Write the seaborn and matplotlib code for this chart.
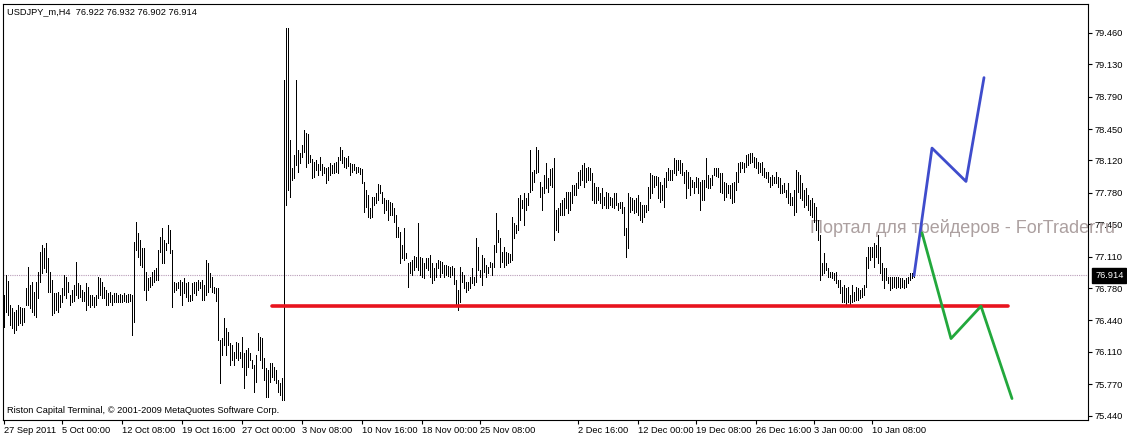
import numpy as np
import pandas as pd
import matplotlib
matplotlib.use('Agg')
import matplotlib.pyplot as plt
import matplotlib.transforms as mtransforms
import seaborn as sns

sns.set_style('white')
plt.rcParams['font.family'] = ['Liberation Sans', 'DejaVu Sans']

# USDJPY H4 bars (high / low)
bar_high = [
    76.71, 76.92, 76.85, 76.60, 76.57, 76.53, 76.55, 76.60, 76.58, 76.57,
    76.57, 76.78, 77.00, 76.81, 76.84, 76.74, 76.84, 76.95, 77.16, 77.23,
    77.20, 77.25, 77.10, 76.95, 76.86, 76.73, 76.73, 76.74, 76.71, 76.78,
    76.92, 76.90, 76.84, 76.71, 76.76, 76.81, 77.05, 76.83, 76.81, 76.76,
    76.74, 76.83, 76.79, 76.71, 76.71, 76.69, 76.71, 76.90, 76.89, 76.84,
    76.79, 76.76, 76.73, 76.74, 76.71, 76.73, 76.73, 76.71, 76.72, 76.71,
    76.73, 76.71, 76.72, 76.72, 76.71,
    77.26, 77.47, 77.36, 77.28, 77.20, 77.20, 76.95, 76.89, 76.90, 76.95,
    76.97, 76.99, 77.18, 77.32, 77.41, 77.28, 77.25, 77.44, 77.39, 77.18,
    76.84, 76.83, 76.84, 76.86, 76.84, 76.89, 76.83, 76.84, 76.71, 76.83,
    76.84, 76.84, 76.86, 76.84, 76.86, 76.81, 77.08, 77.04, 76.94, 76.90,
    76.79, 76.78, 76.78, 76.24, 76.26, 76.47, 76.36, 76.32, 76.20, 76.18,
    76.11, 76.21, 76.20, 76.11, 76.27, 76.10, 76.13, 76.15, 76.10, 76.03,
    75.97, 76.08, 76.31, 76.27, 76.26, 76.05, 75.94, 75.92, 75.99, 75.99,
    75.95, 75.92, 75.82, 75.78, 75.84,
    78.97,
    79.51, 79.51, 78.34, 78.04, 78.18, 78.97, 78.23, 78.20, 78.28, 78.44,
    78.41, 78.40, 78.18, 78.14, 78.10, 78.13, 78.08, 78.16, 78.08, 78.05,
    78.04, 78.05, 78.09, 78.07, 78.09, 78.10, 78.16, 78.26, 78.23, 78.16,
    78.15, 78.17, 78.09, 78.08, 78.08, 78.05, 78.05, 78.04, 78.03, 77.89,
    77.81, 77.76, 77.62, 77.74, 77.74, 77.78, 77.87, 77.86, 77.79, 77.73,
    77.71, 77.71, 77.68,
    77.67, 77.62, 77.55, 77.42, 77.37, 77.23, 77.41, 77.15, 77.04, 77.05,
    77.08, 77.12, 77.11, 77.46, 77.11, 77.10, 77.04, 77.10, 77.10, 77.13,
    77.04, 76.99, 77.04, 77.08, 77.06, 77.05, 77.02, 77.02, 77.01, 77.00,
    77.01, 76.99, 76.86, 76.76, 77.00, 76.95, 76.92, 76.84, 76.84, 76.90,
    76.99, 76.90, 77.31, 77.21, 76.97, 77.13, 77.10, 77.02, 77.00, 77.05,
    77.04, 77.23, 77.57, 77.39, 77.31, 77.16, 77.21, 77.16, 77.15, 77.14,
    77.53, 77.46, 77.44, 77.73, 77.76, 77.71, 77.78, 77.73, 77.78, 78.23,
    78.00, 78.02, 78.26, 78.23, 77.89, 77.84, 77.97, 78.09, 77.94, 78.03,
    78.04, 78.15, 77.60, 77.62, 77.67,
    77.71, 77.73, 77.79, 77.79, 77.79, 77.86, 77.86, 77.88, 78.00, 78.02,
    78.07, 78.09, 78.04, 78.05, 78.04, 77.99, 77.88, 77.84, 77.84, 77.78,
    77.83, 77.74, 77.79, 77.78, 77.74, 77.73, 77.78, 77.78, 77.67, 77.68,
    77.68, 77.63, 77.41, 77.78, 77.74, 77.73, 77.71, 77.73, 77.76, 77.68,
    77.65, 77.65, 77.65, 77.84, 77.99, 77.97, 77.96, 77.96, 77.95, 77.89,
    77.86, 77.94, 78.00, 78.04, 78.02, 78.02, 78.15, 78.13, 78.13, 78.13,
    78.09, 78.00, 78.02, 78.00, 77.95, 77.91, 77.89, 77.95, 77.94, 77.89,
    77.91, 77.91, 78.15, 77.97, 77.94, 77.97, 78.04, 78.04, 78.04, 77.99,
    77.99, 77.89, 77.88, 77.86, 77.86, 77.88, 77.89, 78.00, 78.09,
    78.10, 78.10, 78.09, 78.18, 78.19, 78.20, 78.20, 78.16, 78.15, 78.10,
    78.09, 78.10, 78.04, 78.00, 78.00, 77.95, 77.97, 77.95, 78.00, 77.95,
    77.94, 77.86, 77.88, 77.81, 77.88, 77.78, 77.74, 77.81, 78.02, 78.00,
    77.97, 77.88, 77.81, 77.83, 77.76, 77.71, 77.73, 77.67, 77.63, 77.50,
    77.34, 77.04, 77.15, 77.04, 76.99, 76.95, 76.95, 76.94, 76.95, 76.86,
    76.86, 76.79, 76.81, 76.78, 76.79, 76.71, 76.81, 76.74, 76.79, 76.78,
    76.76, 76.78, 76.81, 77.11, 77.21, 77.21, 77.21, 77.25, 77.23, 77.34,
    77.21, 77.04, 76.99, 76.99, 76.90, 76.90, 76.90, 76.90, 76.90, 76.90,
    76.89, 76.89, 76.86, 76.89, 76.90, 76.94, 76.94, 76.93,
]

bar_low = [
    76.37, 76.53, 76.50, 76.39, 76.36, 76.31, 76.34, 76.39, 76.41, 76.39,
    76.42, 76.60, 76.60, 76.57, 76.53, 76.50, 76.48, 76.68, 76.84, 76.94,
    76.99, 76.95, 76.74, 76.74, 76.50, 76.52, 76.55, 76.53, 76.58, 76.63,
    76.71, 76.68, 76.74, 76.60, 76.63, 76.64, 76.71, 76.68, 76.69, 76.64,
    76.64, 76.55, 76.60, 76.58, 76.60, 76.58, 76.60, 76.68, 76.71, 76.68,
    76.68, 76.60, 76.60, 76.63, 76.60, 76.63, 76.63, 76.63, 76.63, 76.63,
    76.64, 76.63, 76.63, 76.64, 76.29,
    76.42, 77.18, 77.11, 77.02, 77.00, 76.76, 76.66, 76.76, 76.79, 76.81,
    76.84, 76.86, 76.86, 77.16, 77.04, 77.04, 77.18, 77.25, 77.15, 76.58,
    76.74, 76.76, 76.78, 76.71, 76.60, 76.73, 76.69, 76.64, 76.64, 76.66,
    76.73, 76.71, 76.76, 76.78, 76.66, 76.66, 76.71, 76.74, 76.79, 76.74,
    76.73, 76.64, 76.24, 75.78, 76.08, 76.18, 76.08, 76.18, 75.97, 76.03,
    75.97, 76.05, 76.03, 76.05, 75.95, 75.73, 75.87, 75.95, 76.03, 75.94,
    75.69, 75.79, 76.13, 76.03, 75.94, 75.82, 75.64, 75.64, 75.79, 75.85,
    75.82, 75.78, 75.69, 75.66, 75.61,
    75.61,
    77.65, 77.81, 77.74, 77.91, 77.94, 78.07, 78.00, 78.09, 78.16, 78.21,
    78.05, 78.09, 78.10, 77.94, 77.95, 78.02, 77.97, 78.02, 77.97, 77.99,
    77.88, 77.91, 77.97, 77.99, 77.99, 78.00, 77.99, 78.13, 78.09, 78.05,
    78.04, 78.06, 77.97, 78.00, 78.02, 77.99, 78.00, 77.98, 77.88, 77.58,
    77.63, 77.53, 77.52, 77.53, 77.65, 77.67, 77.71, 77.78, 77.67, 77.57,
    77.60, 77.50, 77.55,
    77.55, 77.47, 77.32, 77.32, 77.04, 77.10, 77.08, 77.10, 76.79, 76.94,
    76.92, 76.97, 77.00, 76.97, 76.92, 76.90, 76.89, 76.99, 76.97, 76.90,
    76.83, 76.86, 76.90, 76.99, 76.90, 76.94, 76.90, 76.92, 76.91, 76.90,
    76.92, 76.82, 76.60, 76.55, 76.63, 76.84, 76.78, 76.74, 76.76, 76.78,
    76.83, 76.81, 76.84, 76.97, 76.90, 76.81, 76.95, 76.90, 76.94, 77.00,
    76.92, 77.00, 77.16, 77.26, 77.00, 77.05, 77.00, 77.02, 77.04, 77.05,
    77.08, 77.31, 77.36, 77.39, 77.50, 77.62, 77.44, 77.60, 77.65, 77.79,
    77.81, 77.89, 77.99, 78.00, 77.74, 77.60, 77.78, 77.83, 77.79, 77.86,
    77.84, 77.28, 77.39, 77.37, 77.55,
    77.55, 77.55, 77.62, 77.57, 77.60, 77.67, 77.76, 77.76, 77.83, 77.86,
    77.91, 77.84, 77.89, 77.91, 77.91, 77.71, 77.67, 77.67, 77.71, 77.67,
    77.62, 77.65, 77.62, 77.62, 77.65, 77.63, 77.62, 77.65, 77.60, 77.62,
    77.57, 77.34, 77.11, 77.20, 77.58, 77.60, 77.57, 77.58, 77.55, 77.50,
    77.47, 77.53, 77.58, 77.60, 77.73, 77.78, 77.84, 77.86, 77.73, 77.68,
    77.71, 77.63, 77.84, 77.91, 77.91, 77.91, 77.99, 77.97, 78.02, 77.99,
    77.97, 77.88, 77.73, 77.83, 77.76, 77.84, 77.78, 77.84, 77.78, 77.60,
    77.71, 77.71, 77.84, 77.83, 77.83, 77.86, 77.97, 77.96, 77.95, 77.79,
    77.78, 77.71, 77.74, 77.78, 77.73, 77.67, 77.68, 77.81, 77.89,
    78.00, 78.04, 78.00, 78.05, 78.07, 78.09, 78.10, 78.05, 78.04, 77.99,
    78.00, 77.97, 77.95, 77.94, 77.89, 77.84, 77.86, 77.88, 77.88, 77.84,
    77.78, 77.78, 77.79, 77.74, 77.67, 77.65, 77.65, 77.55, 77.58, 77.79,
    77.73, 77.71, 77.63, 77.65, 77.60, 77.55, 77.53, 77.47, 77.39, 77.28,
    76.86, 76.92, 76.94, 76.97, 76.90, 76.90, 76.89, 76.86, 76.83, 76.79,
    76.73, 76.63, 76.63, 76.60, 76.63, 76.60, 76.63, 76.64, 76.66, 76.66,
    76.68, 76.69, 76.71, 76.79, 76.99, 77.08, 77.11, 77.00, 77.11, 77.04,
    76.94, 76.86, 76.78, 76.86, 76.83, 76.76, 76.78, 76.79, 76.78, 76.79,
    76.78, 76.79, 76.78, 76.79, 76.83, 76.86, 76.89, 76.90,
]

# time axis labels (bar index where each label sits)
date_ticks = [0, 29, 59, 89, 119, 149, 179, 209, 238, 287, 317, 346, 376, 405, 434]
date_labels = ['27 Sep 2011', '5 Oct 00:00', '12 Oct 08:00', '19 Oct 16:00',
               '27 Oct 00:00', '3 Nov 08:00', '10 Nov 16:00', '18 Nov 00:00',
               '25 Nov 08:00', '2 Dec 16:00', '12 Dec 00:00', '19 Dec 08:00',
               '26 Dec 16:00', '3 Jan 00:00', '10 Jan 08:00']
price_ticks = [79.46, 79.13, 78.79, 78.45, 78.12, 77.78, 77.45,
               77.11, 76.78, 76.44, 76.11, 75.77, 75.44]

last_price = 76.914
header = 'USDJPY_m,H4  76.922 76.932 76.902 76.914'

# drawn lines: support level and the two forecast paths
support_x = [134, 502]
support_y = [76.59, 76.59]
up_x = [455, 464, 481, 490]
up_y = [76.91, 78.25, 77.90, 78.99]
down_x = [459, 473.5, 488.5, 504]
down_y = [77.36, 76.25, 76.59, 75.62]

W, H = 1127, 436
fig = plt.figure(figsize=(W / 100, H / 100), dpi=100)
ax = fig.add_axes([3 / W, 16 / H, 1085 / W, 416 / H])

bars = pd.DataFrame({'bar': np.arange(len(bar_high)), 'high': bar_high, 'low': bar_low})
ax.vlines(bars['bar'], bars['low'], bars['high'], color='black', lw=0.5,
          antialiased=False, zorder=2)

ax.axhline(last_price, color='#b89cb8', lw=0.8, ls=(0, (1, 1)), zorder=1)

sns.lineplot(x=support_x, y=support_y, ax=ax, color='#e8141e', lw=2.6, sort=False, zorder=3)
sns.lineplot(x=up_x, y=up_y, ax=ax, color='#3f4ccc', lw=2.0, sort=False, zorder=3)
sns.lineplot(x=down_x, y=down_y, ax=ax, color='#22a83c', lw=2.0, sort=False, zorder=3)

ax.set_xlim(-0.5, 542)
ax.set_ylim(75.395, 79.763)

ax.yaxis.tick_right()
ax.set_yticks(price_ticks)
ax.set_yticklabels([f'{p:.3f}' for p in price_ticks])
ax.set_xticks(date_ticks)
ax.set_xticklabels(date_labels)
for lbl in ax.get_xticklabels():
    lbl.set_ha('left')
ax.tick_params(axis='y', right=True, left=False, direction='out', length=3,
               width=0.8, labelsize=6.7, pad=2, colors='black')
ax.tick_params(axis='x', bottom=True, direction='out', length=3, width=0.8,
               labelsize=6.7, pad=1.5, colors='black')
ax.set_xlabel('')
ax.set_ylabel('')
for s in ax.spines.values():
    s.set_color('black')
    s.set_linewidth(0.8)

# current price tag on the price scale
tr = mtransforms.blended_transform_factory(ax.transAxes, ax.transData)
ax.text(1.0065, last_price, f'{last_price:.3f}', transform=tr, ha='left', va='center',
        color='white', fontsize=6.7, clip_on=False, zorder=6,
        bbox=dict(boxstyle='square,pad=0.3', fc='black', ec='black'))

ax.text(7 / W, 1 - 12 / H, header, transform=fig.transFigure, fontsize=6.7,
        va='center', ha='left', color='black')
ax.text(7 / W, 1 - 410 / H, 'Riston Capital Terminal, © 2001-2009 MetaQuotes Software Corp.',
        transform=fig.transFigure, fontsize=6.7, va='center', ha='left', color='black')
# watermark runs over the price scale, as in the original terminal screenshot
ax.text(810 / W, 1 - 228 / H, 'Портал для трейдеров - ForTrader.ru',
        transform=fig.transFigure, fontsize=13, va='center', ha='left',
        color='#aca0a0', clip_on=False, zorder=1.5)

fig.savefig('out.png', dpi=100)
plt.close(fig)
